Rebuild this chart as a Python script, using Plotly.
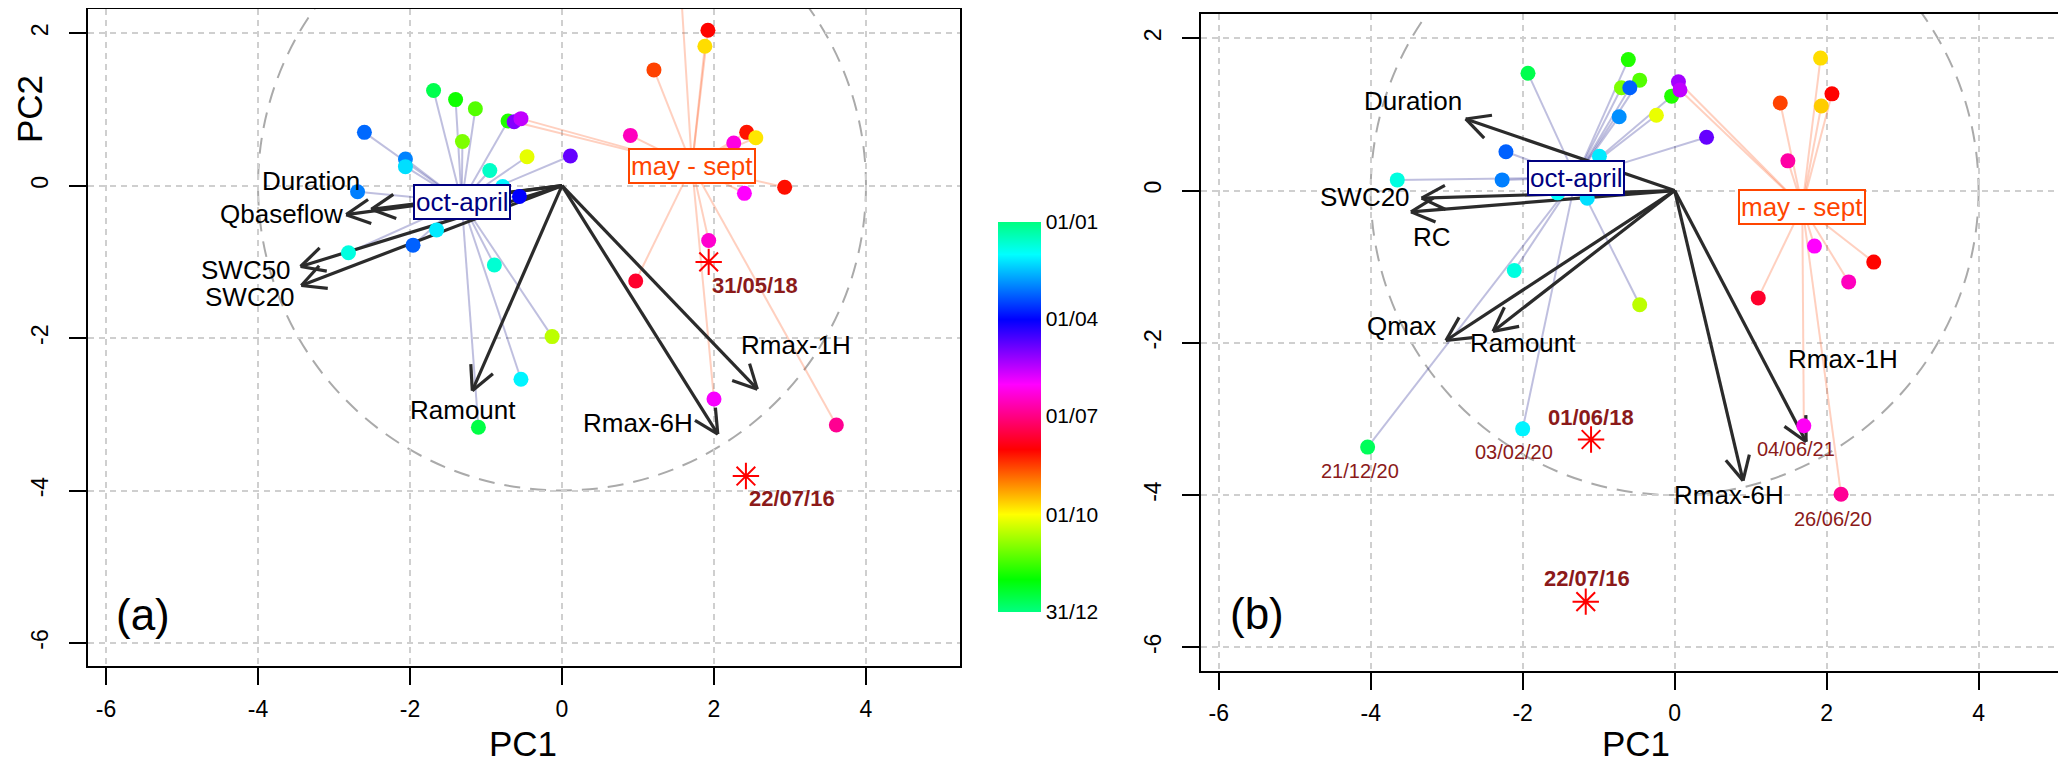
import colorsys
import math
import plotly.graph_objects as go

W, H = 2066, 761
FONT = "Liberation Sans, Arial, sans-serif"

# ---------------- panel (a) ----------------
a_oct_x = [-2.60, -2.06, -2.06, -2.69, -1.69, -1.40, -1.31, -1.65, -1.96, -2.81, -1.14,
           -0.71, -0.46, -0.95, 0.11, -0.56, -0.78, -0.89, -0.13, -0.54, -1.10]
a_oct_y = [0.70, 0.35, 0.25, -0.08, 1.25, 1.13, 0.58, -0.58, -0.78, -0.88, 1.01,
           0.85, 0.38, 0.20, 0.39, -0.14, -0.01, -1.04, -1.98, -2.54, -3.17]
a_oct_doy = [66, 60, 38, 61, 352, 330, 304, 35, 68, 23, 314,
             326, 279, 17, 115, 91, 33, 20, 289, 33, 350]

a_may_x = [1.92, 1.88, 1.21, 0.90, 2.43, 2.55, 2.26, 2.93, 2.40, 1.93, 0.97, 2.00, 3.61,
           -0.63, -0.54, 1.55]
a_may_y = [2.04, 1.83, 1.52, 0.66, 0.70, 0.63, 0.56, -0.02, -0.10, -0.72, -1.25, -2.80, -3.14,
           0.84, 0.88, 2.80]
a_may_doy = [213, 265, 228, 167, 217, 267, 159, 216, 152, 163, 202, 150, 178,
             122, 137, 240]

a_oct_centre = (-1.32, -0.21)
a_may_centre = (1.71, 0.26)

a_var_names = ["Duration", "Qbaseflow", "SWC50", "SWC20", "Ramount", "Rmax-6H", "Rmax-1H"]
a_var_x = [-2.51, -2.84, -3.44, -3.43, -1.18, 2.05, 2.57]
a_var_y = [-0.31, -0.38, -1.06, -1.31, -2.69, -3.26, -2.67]
a_lab_x = [-3.30, -3.69, -4.16, -4.11, -1.30, 1.00, 3.08]
a_lab_y = [0.06, -0.37, -1.11, -1.46, -2.95, -3.11, -2.09]

a_star_x = [1.93, 2.42]
a_star_y = [-1.00, -3.81]
a_star_text = ["31/05/18", "22/07/16"]
a_star_lab_x = [2.54, 3.02]
a_star_lab_y = [-1.31, -4.11]

# ---------------- panel (b) ----------------
b_oct_x = [-1.93, -0.61, -0.46, -0.70, -0.59, -0.73, -2.22, -0.99, -3.65, -2.27, -1.15,
           -1.54, -2.11, -0.46, -0.04, -0.24, 0.42, -4.04, -2.00]
b_oct_y = [1.54, 1.72, 1.45, 1.35, 1.35, 0.97, 0.51, 0.45, 0.14, 0.14, -0.10,
           -0.03, -1.05, -1.50, 1.24, 0.99, 0.70, -3.37, -3.13]
b_oct_doy = [352, 326, 314, 304, 68, 57, 68, 35, 23, 61, 38,
             30, 23, 289, 326, 278, 115, 355, 33]

b_may_x = [1.92, 2.07, 1.93, 1.39, 1.49, 0.05, 0.07, 1.84, 2.62, 2.29, 1.10, 1.70, 2.19]
b_may_y = [1.74, 1.27, 1.11, 1.15, 0.39, 1.43, 1.32, -0.73, -0.94, -1.20, -1.41, -3.09, -3.99]
b_may_doy = [265, 213, 261, 228, 173, 130, 137, 152, 213, 167, 202, 154, 177]

b_oct_centre = (-1.30, 0.17)
b_may_centre = (1.68, -0.21)

b_var_names = ["Duration", "SWC20", "RC", "Qmax", "Ramount", "Rmax-6H", "Rmax-1H"]
b_var_x = [-2.75, -3.33, -3.47, -3.01, -2.39, 0.90, 1.73]
b_var_y = [0.94, -0.10, -0.28, -1.97, -1.85, -3.81, -3.30]
b_lab_x = [-3.44, -4.08, -3.19, -3.60, -2.00, 0.72, 2.21]
b_lab_y = [1.18, -0.09, -0.61, -1.78, -2.00, -4.00, -2.21]

b_star_x = [-1.10, -1.17]
b_star_y = [-3.27, -5.40]
b_star_text = ["01/06/18", "22/07/16"]
b_star_lab_x = [-1.10, -1.16]
b_star_lab_y = [-2.98, -5.10]

b_date_text = ["21/12/20", "03/02/20", "04/06/21", "26/06/20"]
b_date_x = [-4.14, -2.11, 1.60, 2.09]
b_date_y = [-3.69, -3.43, -3.39, -4.31]

tick_vals = [-6, -4, -2, 0, 2, 4]
tick_text = ["-6", "-4", "-2", "0", "2", "4"]
cbar_vals = [364, 274, 183, 91, 0]
cbar_text = ["01/01", "01/04", "01/07", "01/10", "31/12"]

XR = [-6.237, 5.233]
YR = [-6.307, 2.319]


def hue_colour(frac):
    h = ((150 + 360 * frac) % 360) / 360
    r, g, b = colorsys.hsv_to_rgb(h, 1, 1)
    return "rgb(%d,%d,%d)" % (round(r * 255), round(g * 255), round(b * 255))


# colour value 364 = 01/01 at the top of the bar, 0 = 31/12 at the bottom
colorscale = [[k / 24, hue_colour(1 - k / 24)] for k in range(25)]


def spokes(c, xs, ys):
    lx, ly = [], []
    for x, y in zip(xs, ys):
        lx += [c[0], x, None]
        ly += [c[1], y, None]
    return lx, ly


def arrows(txs, tys, head=0.35, ang=math.radians(27)):
    ax, ay = [], []
    for tx, ty in zip(txs, tys):
        th = math.atan2(ty, tx)
        ax += [0, tx, None]
        ay += [0, ty, None]
        for s in (1, -1):
            ax += [tx - head * math.cos(th + s * ang), tx, None]
            ay += [ty - head * math.sin(th + s * ang), ty, None]
    return ax, ay


fig = go.Figure()


def add_panel(xa, ya, oct_x, oct_y, oct_doy, may_x, may_y, may_doy, oct_c, may_c,
              vx, vy, names, lx, ly, sx, sy, stext, slx, sly, scale):
    ox, oy = spokes(oct_c, oct_x, oct_y)
    fig.add_trace(go.Scatter(x=ox, y=oy, mode="lines", xaxis=xa, yaxis=ya,
                             line=dict(color="rgba(0,0,128,0.25)", width=2), hoverinfo="skip"))
    mx, my = spokes(may_c, may_x, may_y)
    fig.add_trace(go.Scatter(x=mx, y=my, mode="lines", xaxis=xa, yaxis=ya,
                             line=dict(color="rgba(255,69,0,0.25)", width=2), hoverinfo="skip"))
    ax, ay = arrows(vx, vy)
    fig.add_trace(go.Scatter(x=ax, y=ay, mode="lines", xaxis=xa, yaxis=ya,
                             line=dict(color="#2b2b2b", width=3.2), hoverinfo="skip"))
    doy = oct_doy + may_doy
    fig.add_trace(go.Scatter(
        x=oct_x + may_x, y=oct_y + may_y, mode="markers", xaxis=xa, yaxis=ya,
        marker=dict(size=15, color=[364 - d for d in doy], colorscale=colorscale,
                    cmin=0, cmax=364, line=dict(width=0), showscale=scale,
                    colorbar=dict(thickness=43, thicknessmode="pixels", len=390, lenmode="pixels",
                                  x=990 / W, xanchor="left", y=1 - 409 / H, yanchor="middle",
                                  xpad=0, ypad=0, outlinewidth=0, ticks="",
                                  tickvals=cbar_vals, ticktext=cbar_text,
                                  tickfont=dict(family=FONT, size=21, color="black"))),
        hoverinfo="skip"))
    fig.add_trace(go.Scatter(x=sx, y=sy, mode="markers", xaxis=xa, yaxis=ya,
                             marker=dict(symbol="asterisk-open", size=22, color="#FF0000",
                                         line=dict(color="#FF0000", width=2)),
                             hoverinfo="skip"))
    for n, x, y in zip(names, lx, ly):
        fig.add_annotation(x=x, y=y, xref=xa, yref=ya, text=n, showarrow=False,
                           font=dict(family=FONT, size=26, color="black"))
    for t, x, y in zip(stext, slx, sly):
        fig.add_annotation(x=x, y=y, xref=xa, yref=ya, text="<b>%s</b>" % t, showarrow=False,
                           font=dict(family=FONT, size=22, color="#8B1A1A"))
    fig.add_annotation(x=oct_c[0], y=oct_c[1], xref=xa, yref=ya, text="oct-april",
                       showarrow=False, bgcolor="white", bordercolor="#000080",
                       borderwidth=2, borderpad=1,
                       font=dict(family=FONT, size=26, color="#000080"))
    fig.add_annotation(x=may_c[0], y=may_c[1], xref=xa, yref=ya, text="may - sept",
                       showarrow=False, bgcolor="white", bordercolor="#FF4500",
                       borderwidth=2, borderpad=1,
                       font=dict(family=FONT, size=26, color="#FF4500"))
    fig.add_shape(type="circle", xref=xa, yref=ya, x0=-4, x1=4, y0=-4, y1=4,
                  line=dict(color="#AAAAAA", width=2, dash="16px,10px"), layer="below")


add_panel("x", "y", a_oct_x, a_oct_y, a_oct_doy, a_may_x, a_may_y, a_may_doy,
          a_oct_centre, a_may_centre, a_var_x, a_var_y, a_var_names, a_lab_x, a_lab_y,
          a_star_x, a_star_y, a_star_text, a_star_lab_x, a_star_lab_y, True)
add_panel("x2", "y2", b_oct_x, b_oct_y, b_oct_doy, b_may_x, b_may_y, b_may_doy,
          b_oct_centre, b_may_centre, b_var_x, b_var_y, b_var_names, b_lab_x, b_lab_y,
          b_star_x, b_star_y, b_star_text, b_star_lab_x, b_star_lab_y, False)

for t, x, y in zip(b_date_text, b_date_x, b_date_y):
    fig.add_annotation(x=x, y=y, xref="x2", yref="y2", text=t, showarrow=False,
                       font=dict(family=FONT, size=20, color="#8B1A1A"))

fig.add_annotation(x=-5.51, y=-5.63, xref="x", yref="y", text="(a)", showarrow=False,
                   font=dict(family=FONT, size=44, color="black"))
fig.add_annotation(x=-5.50, y=-5.56, xref="x2", yref="y2", text="(b)", showarrow=False,
                   font=dict(family=FONT, size=44, color="black"))

for x in [515, 1628]:
    fig.add_annotation(x=x / W, y=4 / H, xref="paper", yref="paper", text="PC1",
                       xanchor="center", yanchor="bottom",
                       showarrow=False, font=dict(family=FONT, size=35, color="black"))
fig.add_annotation(x=22 / W, y=1 - 101 / H, xref="paper", yref="paper", text="PC2",
                   xanchor="center", yanchor="middle",
                   textangle=-90, showarrow=False, font=dict(family=FONT, size=35, color="black"))

axis = dict(showline=True, linecolor="black", linewidth=2, mirror=True,
            ticks="outside", ticklen=17, tickwidth=2, tickcolor="black",
            showgrid=True, gridcolor="#CFCFCF", gridwidth=1.5, griddash="6px,5px",
            zeroline=False, tickmode="array", tickvals=tick_vals, ticktext=tick_text,
            tickfont=dict(family=FONT, size=23, color="black"), automargin=False)

xa = dict(axis, range=XR, ticklabelstandoff=4)
ya = dict(axis, range=YR, tickangle=-90, ticklabelstandoff=12)

fig.update_layout(
    width=W, height=H, margin=dict(l=0, r=0, t=0, b=0),
    paper_bgcolor="white", plot_bgcolor="white", showlegend=False,
    font=dict(family=FONT),
    xaxis=dict(xa, domain=[80 / W, 951.7 / W], anchor="y"),
    yaxis=dict(ya, domain=[1 - 658.3 / H, 1 - 1 / H], anchor="x"),
    xaxis2=dict(xa, domain=[1192.7 / W, 2064.3 / W], anchor="y2"),
    yaxis2=dict(ya, domain=[1 - 662.7 / H, 1 - 6 / H], anchor="x2"),
)

fig.write_html("out.html")
